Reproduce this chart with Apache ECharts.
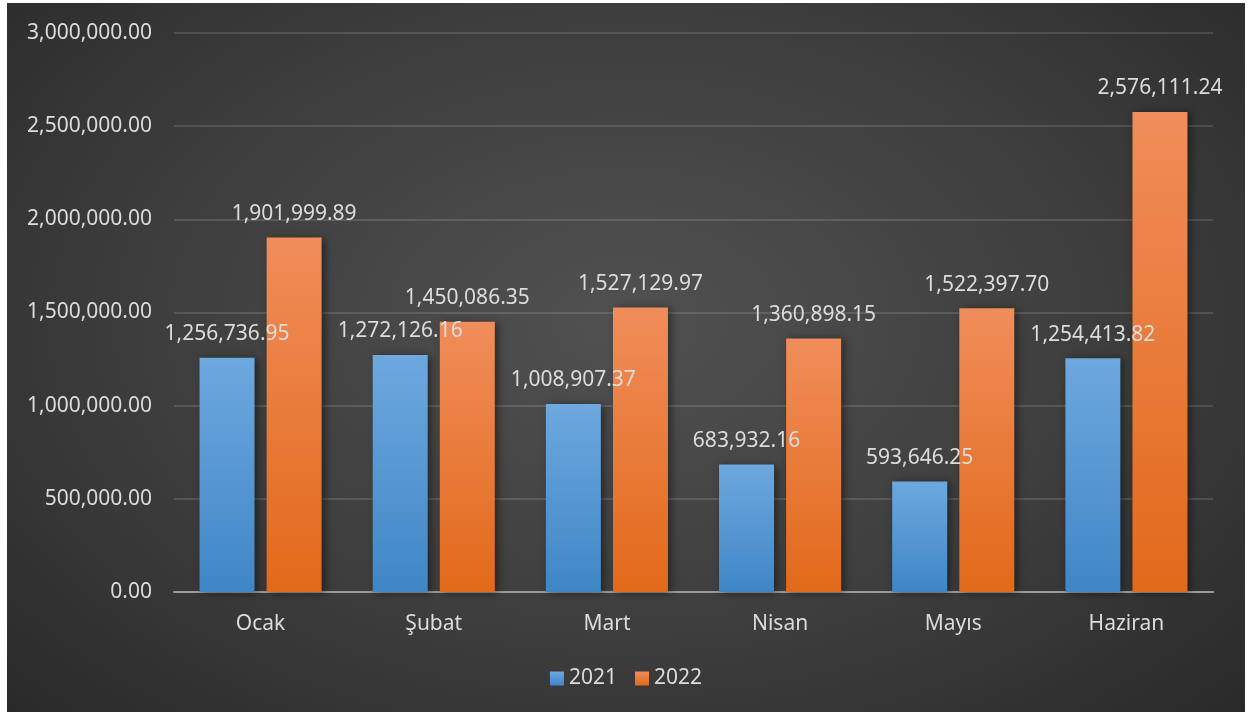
<!DOCTYPE html>
<html>
<head>
<meta charset="utf-8">
<script src="https://cdn.jsdelivr.net/npm/echarts@6/dist/echarts.min.js"></script>
<style>
  html, body { margin: 0; padding: 0; background: #ffffff; }
  #frame {
    position: absolute; left: 7px; top: 3px; width: 1238px; height: 709px;
    background: radial-gradient(ellipse 75% 85% at 50% 45%, #515151 0%, #3c3c3c 55%, #262626 100%);
  }
  #chart { width: 100%; height: 100%; }
</style>
</head>
<body>
<div id="frame"><div id="chart"></div></div>
<script>
// aylar
const months = ['Ocak', 'Şubat', 'Mart', 'Nisan', 'Mayıs', 'Haziran'];
const values2021 = [1256736.95, 1272126.16, 1008907.37, 683932.16, 593646.25, 1254413.82];
const values2022 = [1901999.89, 1450086.35, 1527129.97, 1360898.15, 1522397.70, 2576111.24];

const fmt = v => Number(v).toLocaleString('en-US', { minimumFractionDigits: 2, maximumFractionDigits: 2 });
const txt = '#dcdcdc';
const font = '"Noto Sans", sans-serif';
const fs = 21;

const grad = (top, bottom) => new echarts.graphic.LinearGradient(0, 0, 0, 1, [
    { offset: 0, color: top },
    { offset: 1, color: bottom }
]);

const barStyle = (top, bottom) => ({
    color: grad(top, bottom),
    shadowColor: 'rgba(0,0,0,0.45)',
    shadowBlur: 8,
    shadowOffsetX: 3,
    shadowOffsetY: 1
});

const labelStyle = {
    show: true,
    position: 'top',
    distance: 13,
    color: txt,
    fontSize: fs,
    fontFamily: font,
    formatter: p => fmt(p.value)
};

const chart = echarts.init(document.getElementById('chart'));
chart.setOption({
    backgroundColor: 'transparent',
    animation: false,
    textStyle: { fontFamily: font },
    grid: { left: 167, right: 32, top: 30, bottom: 120 },
    legend: {
        bottom: 18,
        left: 'center',
        icon: 'rect',
        itemWidth: 14,
        itemHeight: 14,
        itemGap: 18,
        itemTextGap: 7,
        textStyle: { color: txt, fontSize: fs, fontFamily: font },
        data: ['2021', '2022']
    },
    xAxis: {
        type: 'category',
        data: months,
        axisTick: { show: false },
        axisLine: { lineStyle: { color: '#9a9a9a', width: 2 } },
        axisLabel: { color: txt, fontSize: fs, fontFamily: font, margin: 22 }
    },
    yAxis: {
        type: 'value',
        min: 0,
        max: 3000000,
        interval: 500000,
        axisLine: { show: false },
        axisTick: { show: false },
        splitLine: { lineStyle: { color: 'rgba(255,255,255,0.13)', width: 2 } },
        axisLabel: { color: txt, fontSize: fs, fontFamily: font, margin: 22, formatter: v => fmt(v) }
    },
    series: [
        {
            name: '2021',
            type: 'bar',
            data: values2021,
            barWidth: 55,
            barGap: '22%',
            itemStyle: barStyle('#6da8de', '#3f86c6'),
            label: labelStyle
        },
        {
            name: '2022',
            type: 'bar',
            data: values2022,
            barWidth: 55,
            itemStyle: barStyle('#f08d5a', '#e2691a'),
            label: labelStyle
        }
    ]
});
</script>
</body>
</html>
